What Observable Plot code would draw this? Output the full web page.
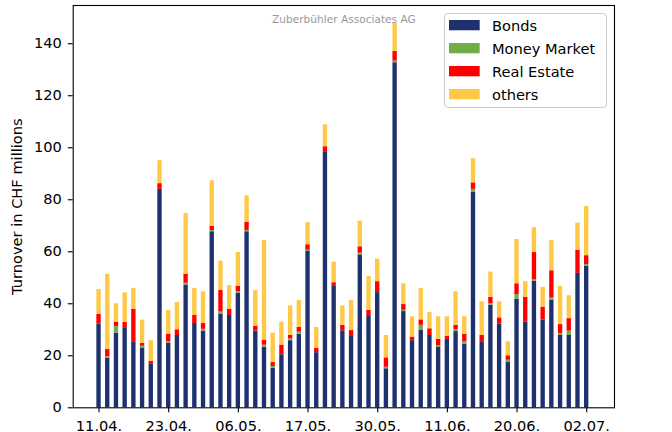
<!DOCTYPE html>
<html>
<head>
<meta charset="utf-8">
<script src="https://cdn.jsdelivr.net/npm/d3@7"></script>
<script src="https://cdn.jsdelivr.net/npm/@observablehq/plot@0.6"></script>
<style>
  html, body { margin: 0; padding: 0; background: #ffffff; }
  #fig { position: relative; width: 672px; height: 432px; overflow: hidden; font-family: "DejaVu Sans", sans-serif; }
  #fig > svg { display: block; }
  #legend {
    position: absolute; left: 444px; top: 12.7px; width: 163px; height: 95.5px;
    box-sizing: border-box; border: 1px solid #cccccc; border-radius: 4px;
    background: rgba(255,255,255,0.8); padding: 0 0 0 4.3px;
  }
  #legend > div { margin: 0 !important; font-family: "DejaVu Sans", sans-serif !important; font-size: 14.6px !important; color: #000 !important; line-height: 23px; }
  #legend > div > div { padding-bottom: 0 !important; height: 23px; display: flex; align-items: center; }
  #legend svg { margin-right: 12px !important; }
</style>
</head>
<body>
<div id="fig"></div>
<script>
const dates = [
  "11.04.","12.04.","15.04.","16.04.","17.04.","18.04.","19.04.","22.04.","23.04.","24.04.",
  "25.04.","26.04.","29.04.","30.04.","02.05.","03.05.","06.05.","07.05.","08.05.","10.05.",
  "13.05.","14.05.","15.05.","16.05.","17.05.","21.05.","22.05.","23.05.","24.05.","27.05.",
  "28.05.","29.05.","30.05.","31.05.","03.06.","04.06.","05.06.","06.06.","07.06.","10.06.",
  "11.06.","12.06.","13.06.","14.06.","15.06.","17.06.","18.06.","19.06.","20.06.","21.06.",
  "24.06.","25.06.","26.06.","27.06.","28.06.","01.07.","02.07."
];
const tickDates = ["11.04.","23.04.","06.05.","17.05.","30.05.","11.06.","20.06.","02.07."];
const yTicks = [0, 20, 40, 60, 80, 100, 120, 140];
const series = ["Bonds", "Money Market", "Real Estate", "others"];
const colors = ["#1f306e", "#70ad47", "#ff0000", "#ffc846"];

const bonds = [
  32.2, 19.1, 28.7, 30.8, 25.4, 22.8, 16.7, 84.0, 24.9, 27.8,
  47.2, 32.4, 29.5, 67.7, 35.9, 35.5, 44.1, 67.7, 29.5, 23.3,
  15.2, 20.4, 25.8, 28.3, 60.1, 21.2, 98.2, 46.7, 29.6, 27.4,
  58.8, 35.1, 44.3, 15.0, 132.7, 37.0, 25.8, 29.9, 27.8, 23.2,
  26.3, 29.3, 24.5, 82.8, 25.4, 39.5, 32.2, 17.4, 41.7, 32.9,
  48.7, 33.7, 41.3, 27.8, 27.8, 51.7, 54.5
];
const moneyMarket = [
  0, 0.5, 2.6, 0, 0, 0.9, 0, 0, 0.6, 0,
  0.7, 0, 0.7, 0.5, 0.9, 0, 0.6, 0.5, 0, 0.8,
  0.7, 0, 0.7, 0.8, 0.5, 0, 0, 0, 0, 0,
  0.7, 0, 0, 0.6, 0.6, 0.5, 0, 1.8, 0, 0.6,
  0, 0.7, 0.9, 1.2, 0, 0.6, 0, 0.9, 1.8, 0,
  0.6, 0, 0.9, 0.8, 1.7, 0, 0.6
];
const realEstate = [
  3.7, 2.8, 1.6, 2.1, 12.5, 1.1, 1.1, 2.2, 2.8, 2.2,
  3.5, 3.1, 2.2, 1.6, 8.3, 2.4, 2.1, 3.2, 1.9, 1.8,
  1.5, 3.7, 1.3, 1.8, 2.1, 1.7, 2.2, 1.4, 2.1, 2.3,
  2.4, 2.4, 4.2, 3.6, 3.7, 2.2, 1.4, 2.1, 2.6, 2.5,
  1.2, 1.7, 2.9, 2.5, 2.4, 2.4, 2.4, 1.7, 4.2, 9.6,
  10.4, 5.0, 10.5, 3.4, 4.8, 8.8, 3.4
];
const others = [
  9.6, 28.9, 7.1, 11.3, 8.0, 8.9, 8.0, 8.8, 9.1, 10.5,
  23.3, 10.4, 12.2, 17.5, 11.3, 9.1, 12.9, 10.1, 13.7, 38.4,
  11.3, 8.8, 11.4, 10.4, 8.5, 8.0, 8.4, 7.9, 7.5, 11.6,
  9.9, 13.0, 8.7, 8.6, 10.8, 8.0, 7.8, 12.1, 6.3, 8.7,
  7.5, 12.9, 6.7, 9.3, 13.0, 9.7, 6.2, 5.4, 17.0, 6.0,
  9.6, 7.6, 11.6, 14.7, 8.8, 10.5, 18.9
];
const watermark = "Zuberbühler Associates AG";
const yLabel = "Turnover in CHF millions";

const seriesValues = [bonds, moneyMarket, realEstate, others];
const rows = [];
dates.forEach((d, i) => {
  seriesValues.forEach((arr, k) => rows.push({date: d, series: series[k], value: arr[i]}));
});

const chart = Plot.plot({
  width: 672,
  height: 432,
  marginLeft: 72.7,
  marginRight: 58,
  marginTop: 5,
  marginBottom: 24.7,
  style: {fontFamily: "DejaVu Sans", fontSize: "14.6px", color: "#000", background: "#fff", overflow: "visible"},
  x: {type: "band", domain: dates, paddingInner: 0.5, paddingOuter: 2.83, align: 0.48, axis: null},
  y: {domain: [0, 154.7], axis: null},
  color: {domain: series, range: colors},
  marks: [
    Plot.barY(rows, {x: "date", y: "value", fill: "series"}),
    Plot.axisX({ticks: tickDates, tickSize: 4.9, tickPadding: 7.8, label: null, stroke: "#000", strokeWidth: 1.1, fill: "#000"}),
    Plot.axisY({ticks: yTicks, tickSize: 4.9, tickPadding: 6.5, label: yLabel, labelAnchor: "center", labelArrow: "none", labelOffset: 61.5, stroke: "#000", strokeWidth: 1.1, fill: "#000"}),
    Plot.frame({stroke: "#000", strokeWidth: 1.1}),
    Plot.text([watermark], {frameAnchor: "top", dy: 14.3, lineAnchor: "middle", fill: "#999999", fontSize: 10.6})
  ]
});

const fig = document.getElementById("fig");
fig.appendChild(chart);

const legendWrap = document.createElement("div");
legendWrap.id = "legend";
const legend = Plot.legend({
  color: {domain: series, range: colors},
  legend: "swatches",
  columns: 1,
  swatchWidth: 30.7,
  swatchHeight: 10.3
});
legendWrap.appendChild(legend);
fig.appendChild(legendWrap);
</script>
</body>
</html>
